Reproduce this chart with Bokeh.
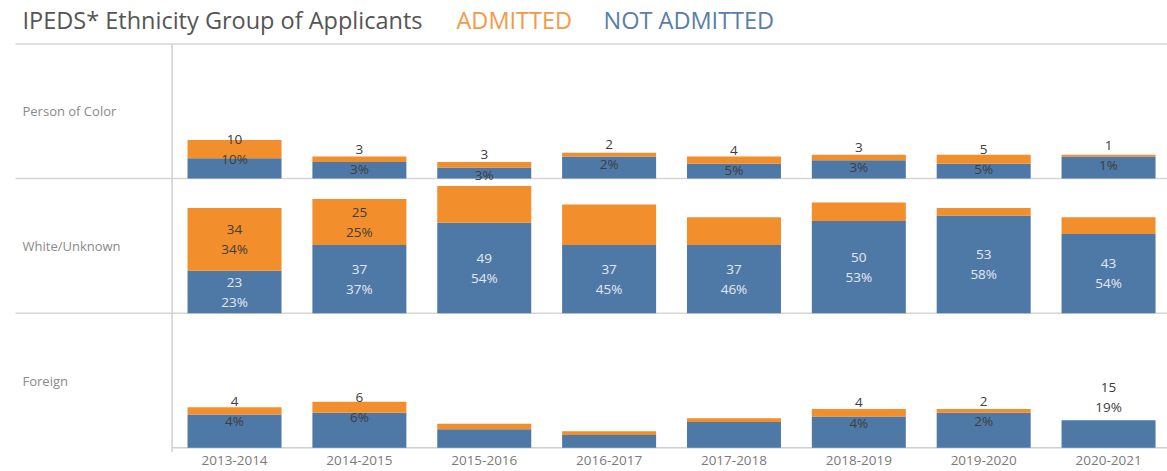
from bokeh.plotting import figure
from bokeh.models import Range1d, FixedTicker, ColumnDataSource
from bokeh.core.properties import value
from bokeh.embed import file_html
from bokeh.resources import INLINE

# ---------------- data ----------------
years = ["2013-2014", "2014-2015", "2015-2016", "2016-2017",
         "2017-2018", "2018-2019", "2019-2020", "2020-2021"]
groups = ["Person of Color", "White/Unknown", "Foreign"]

poc_admitted = [10, 3, 3, 2, 4, 3, 5, 1]
poc_not_admitted = [11, 9, 6, 12, 8, 10, 8, 12]
white_admitted = [34, 25, 20, 22, 15, 10, 4, 9]
white_not_admitted = [23, 37, 49, 37, 37, 50, 53, 43]
foreign_admitted = [4, 6, 3, 2, 2, 4, 2, 0]
foreign_not_admitted = [18, 19, 10, 7, 14, 17, 19, 15]

# percentage labels as printed (None = label not shown in the original)
poc_admitted_pct = ["10%", "3%", "3%", "2%", "5%", "3%", "5%", "1%"]
poc_not_admitted_pct = [None] * 8
white_admitted_pct = ["34%", "25%", None, None, None, None, None, None]
white_not_admitted_pct = ["23%", "37%", "54%", "45%", "46%", "53%", "58%", "54%"]
foreign_admitted_pct = ["4%", "6%", None, None, None, "4%", "2%", None]
foreign_not_admitted_pct = [None, None, None, None, None, None, None, "19%"]

# ---------------- style / layout ----------------
ORANGE = "#F28E2B"
BLUE = "#4E79A7"
FONT = value("Open Sans")
ROW = 73.0              # data units per panel row
PXU = 134.6 / ROW       # pixels per data unit (vertical)
UNIT_PX = 124.86        # pixels per category (horizontal)
LEFT_PX = 171.6         # pixel x of the panel divider
BASE_PX = 447.3         # pixel y of the bottom baseline
W, FH = 1167, 452


def px_x(px):
    return (px - LEFT_PX) / UNIT_PX


def px_y(py):
    return (BASE_PX - py) / PXU


p = figure(frame_width=W, frame_height=FH,
           x_range=Range1d(px_x(0), px_x(W)), y_range=Range1d(px_y(FH), px_y(0)),
           output_backend="svg", toolbar_location=None, y_axis_location=None,
           min_border_left=0, min_border_right=0, min_border_top=0, min_border_bottom=0)
p.outline_line_color = None
p.xgrid.visible = False
p.ygrid.visible = False
p.background_fill_color = "white"

rows = [
    (groups[0], poc_admitted, poc_not_admitted, poc_admitted_pct, poc_not_admitted_pct, 2 * ROW),
    (groups[1], white_admitted, white_not_admitted, white_admitted_pct, white_not_admitted_pct, 1 * ROW),
    (groups[2], foreign_admitted, foreign_not_admitted, foreign_admitted_pct, foreign_not_admitted_pct, 0.0),
]

xs = [i + 0.5 for i in range(len(years))]
BAR_W = 94 / UNIT_PX
LINE_GAP = 9.8 / PXU

# grid / divider lines
sep_x0 = px_x(15)
p.segment(x0=[sep_x0] * 3, y0=[3 * ROW, 2 * ROW, ROW], x1=[px_x(W)] * 3, y1=[3 * ROW, 2 * ROW, ROW],
          line_color="#d6d6d6", line_width=1.5)
p.segment(x0=[0], y0=[px_y(452)], x1=[0], y1=[3 * ROW], line_color="#d0d0d0", line_width=1.5)
p.segment(x0=[0], y0=[0], x1=[px_x(W)], y1=[0], line_color="#d0d0d0", line_width=1.5)

dark_lbl = dict(x=[], y=[], text=[])
light_lbl = dict(x=[], y=[], text=[])

for name, adm, nadm, adm_pct, nadm_pct, base in rows:
    bottom_blue = [base] * len(xs)
    top_blue = [base + v for v in nadm]
    top_orange = [t + a for t, a in zip(top_blue, adm)]
    p.vbar(x=xs, width=BAR_W, bottom=bottom_blue, top=top_blue, fill_color=BLUE, line_color=None)
    p.vbar(x=xs, width=BAR_W, bottom=top_blue, top=top_orange, fill_color=ORANGE, line_color=None)

    # admitted labels (centred on orange segment)
    for i, pct in enumerate(adm_pct):
        if pct is None:
            continue
        mid = (top_blue[i] + top_orange[i]) / 2
        dark_lbl["x"] += [xs[i], xs[i]]
        dark_lbl["y"] += [mid + LINE_GAP, mid - LINE_GAP]
        dark_lbl["text"] += [str(adm[i]), pct]
    # not-admitted labels (centred on blue segment, above the bar if nothing is stacked on top)
    for i, pct in enumerate(nadm_pct):
        if pct is None:
            continue
        if adm[i] == 0:
            mid = top_orange[i] + 22.7 / PXU
            tgt = dark_lbl
        else:
            mid = (bottom_blue[i] + top_blue[i]) / 2
            tgt = light_lbl
        tgt["x"] += [xs[i], xs[i]]
        tgt["y"] += [mid + LINE_GAP, mid - LINE_GAP]
        tgt["text"] += [str(nadm[i]), pct]

p.text(x="x", y="y", text="text", source=ColumnDataSource(dark_lbl),
       text_font=FONT, text_font_size="13.5px", text_color="#3d3d3d",
       text_align="center", text_baseline="middle")
p.text(x="x", y="y", text="text", source=ColumnDataSource(light_lbl),
       text_font=FONT, text_font_size="13.5px", text_color="#e4e9f1",
       text_align="center", text_baseline="middle")

# row (panel) labels
p.text(x=[px_x(22)] * 3, y=[r[5] + ROW / 2 for r in rows], text=groups,
       text_font=FONT, text_font_size="13px", text_color="#8a8a8a",
       text_align="left", text_baseline="middle")

# title with coloured legend words
title_y = px_y(19)
p.text(x=[px_x(22)], y=[title_y], text=["IPEDS* Ethnicity Group of Applicants"],
       text_font=FONT, text_font_size="23.5px", text_color="#555555",
       text_align="left", text_baseline="middle")
p.text(x=[px_x(456)], y=[title_y], text=["ADMITTED"],
       text_font=FONT, text_font_size="23.5px", text_color="#F39A48",
       text_align="left", text_baseline="middle")
p.text(x=[px_x(603)], y=[title_y], text=["NOT ADMITTED"],
       text_font=FONT, text_font_size="23.5px", text_color="#5A7EA8",
       text_align="left", text_baseline="middle")

# x axis
ax = p.xaxis[0]
ax.ticker = FixedTicker(ticks=xs)
ax.major_label_overrides = {x: y for x, y in zip(xs, years)}
ax.axis_line_color = None
ax.major_tick_line_color = None
ax.minor_tick_line_color = None
ax.major_tick_out = 0
ax.major_tick_in = 0
ax.major_label_standoff = 3
ax.major_label_text_font = "Open Sans"
ax.major_label_text_font_size = "13.5px"
ax.major_label_text_color = "#7a7a7a"

open("out.html", "w").write(file_html(p, INLINE))
